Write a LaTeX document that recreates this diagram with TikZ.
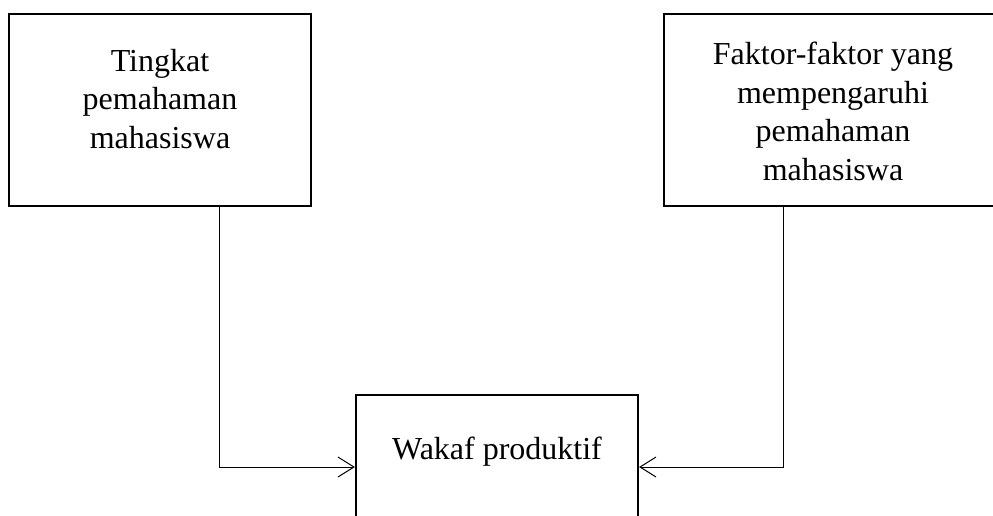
\documentclass[tikz,border=0pt]{standalone}
\usepackage{fontspec}
\setmainfont{Liberation Serif}
\usetikzlibrary{arrows.meta}
\begin{document}
\begin{tikzpicture}[x=1pt,y=-1pt,
  box/.style={draw, line width=2.2pt, inner sep=0pt},
  txt/.style={align=center, inner sep=0pt, anchor=north, font=\fontsize{32}{38.5}\selectfont},
  conn/.style={line width=1pt, -{Straight Barb[length=16pt,width=20pt,line width=1pt]}}]
\useasboundingbox (0,0) rectangle (993,515);
\clip (0,0) rectangle (993,515);
\fill[white] (0,0) rectangle (993,515);
\node[box, minimum width=302pt, minimum height=192pt] (l) at (160,110) {};
\node[box, minimum width=338pt, minimum height=192pt] (r) at (833,110) {};
\node[box, minimum width=282pt, minimum height=144pt] (c) at (497,467) {};
\node[txt] (lt) at (160,49) {Tingkat\\pemahaman\\mahasiswa};
\node[txt] (rt) at (833,42) {Faktor-faktor yang\\mempengaruhi\\pemahaman\\mahasiswa};
\node[txt] (ct) at (497,437) {Wakaf produktif};
\draw[conn] ([xshift=59pt]l.south) |- (c.west);
\draw[conn] ([xshift=-50pt]r.south) |- (c.east);
\end{tikzpicture}
\end{document}
